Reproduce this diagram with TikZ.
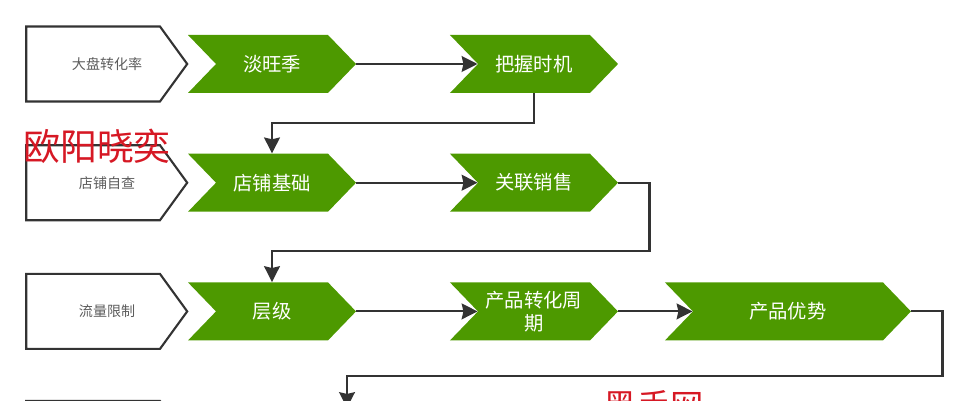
\documentclass[tikz,border=0pt]{standalone}
\usepackage{fontspec}
\setmainfont{Noto Sans CJK SC}
\usetikzlibrary{arrows.meta,positioning,shapes.symbols}

\definecolor{leafgreen}{RGB}{77,153,0}
\definecolor{inkgrey}{RGB}{51,51,51}
\definecolor{markred}{RGB}{214,24,36}

\tikzset{
  flowline/.style={draw=inkgrey, line width=1.2pt},
  flowarrow/.style={flowline, -{Stealth[length=9pt,width=9pt,inset=1pt]}},
  tagbox/.style={signal, signal to=east, signal pointer angle=108, draw=inkgrey, line width=1.2pt,
    minimum width=3.22cm, minimum height=1.5cm, inner sep=0pt, text=inkgrey!80,
    execute at begin node=\hspace*{0.56cm},
    font=\fontsize{8}{10}\selectfont},
  stepbox/.style={signal, signal from=west, signal to=east, signal pointer angle=92, fill=leafgreen,
    minimum width=3.36cm, minimum height=1.16cm, inner sep=0pt, text=white, align=center,
    text width=2cm, font=\fontsize{11}{13}\selectfont},
  marktext/.style={text=markred, inner sep=0pt, font=\fontsize{21}{24}\selectfont}
}

\begin{document}
\begin{tikzpicture}

  \useasboundingbox (0,0) rectangle (19.38,-8);
  \clip (0,0) rectangle (19.38,-8);

  % Define nodes
  \node[stepbox] (season) at (5.44,-1.28) {淡旺季};
  \node[stepbox, right=2.42cm of season] (timing) {把握时机};
  \node[stepbox, below=1.2cm of season] (basics) {店铺基础};
  \node[stepbox, right=2.42cm of basics] (related) {关联销售};
  \node[stepbox, below=1.4cm of basics] (tier) {层级};
  \node[stepbox, right=2.42cm of tier] (cycle) {产品转化周\\期};
  \node[stepbox, minimum width=4.92cm, text width=3cm, right=1.48cm of cycle] (edge) {产品优势};

  \node[tagbox, left=0.54cm of season] (rate) {大盘转化率};
  \node[tagbox, left=0.54cm of basics] (check) {店铺自查};
  \node[tagbox, left=0.54cm of tier] (limit) {流量限制};
  \node[tagbox, below=1cm of limit] (hidden) {};

  \coordinate (cut) at (6.94,-8.16);

  % Connect the nodes
  \draw[flowarrow] (season.east) -- (timing.west);
  \draw[flowarrow] (timing.south) |- ++(-2,-0.6) -| (basics.north);
  \draw[flowarrow] (basics.east) -- (related.west);
  \draw[flowarrow] (related.east) -- ++(0.62,0) |- (5.44,-5.02) -- (tier.north);
  \draw[flowarrow] (tier.east) -- (cycle.west);
  \draw[flowarrow] (cycle.east) -- (edge.west);
  \draw[flowarrow] (edge.east) -- ++(0.62,0) |- (6.94,-7.52) -- (cut);

  % Overprinted words
  \node[marktext] (namemark) at (1.94,-2.92) {欧阳晓奕};
  \node[marktext, font=\fontsize{19}{22}\selectfont] (sitemark) at (13.08,-8.12) {黑手网};

\end{tikzpicture}
\end{document}
